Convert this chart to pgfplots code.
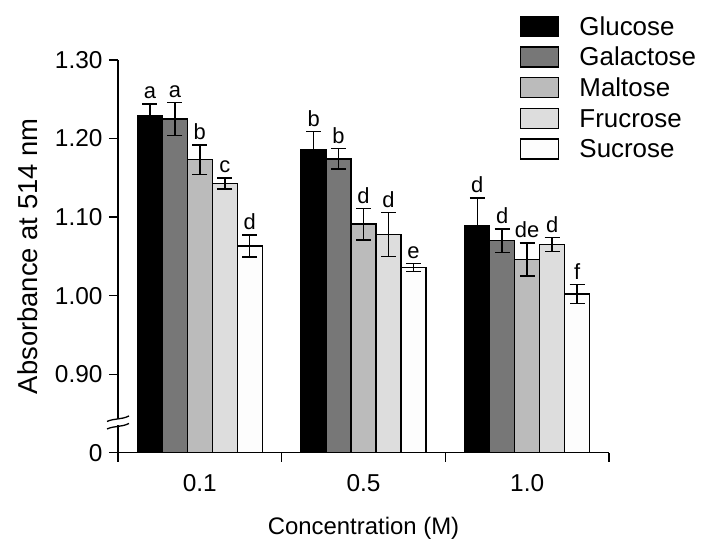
\documentclass[border=0pt]{standalone}
\usepackage{pgfplots}
\pgfplotsset{compat=1.18}
\usepackage{pgfplotstable}
\usepackage{fontspec}
\setmainfont{Liberation Sans}
\definecolor{cGal}{HTML}{777777}
\definecolor{cMal}{HTML}{BBBBBB}
\definecolor{cFru}{HTML}{DDDDDD}
\definecolor{cSuc}{HTML}{FDFDFD}
\pgfplotstableread{
x y err lab
0 1.229 0.015 a
1 1.186 0.023 b
2 1.089 0.035 d
}\glucose
\pgfplotstableread{
x y err lab
0 1.225 0.021 a
1 1.174 0.013 b
2 1.070 0.015 d
}\galactose
\pgfplotstableread{
x y err lab
0 1.173 0.019 b
1 1.091 0.020 d
2 1.046 0.021 de
}\maltose
\pgfplotstableread{
x y err lab
0 1.143 0.007 c
1 1.078 0.028 d
2 1.065 0.009 d
}\frucrose
\pgfplotstableread{
x y err lab
0 1.063 0.014 d
1 1.036 0.005 e
2 1.002 0.012 f
}\sucrose
\begin{document}
\begin{tikzpicture}
\path[use as bounding box] (0bp,0bp) rectangle (719bp,558bp);
\begin{axis}[
  at={(118bp,105.3bp)}, anchor=south west,
  scale only axis, width=491bp, height=392.7bp,
  xmin=-0.5, xmax=2.5, ymin=0.8, ymax=1.3,
  axis x line=bottom, axis y line=left,
  axis line style={-, line width=1.3bp},
  every tick/.style={black, line width=1.3bp},
  tick align=outside, major tick length=9bp,
  xtick={-0.5,0.5,1.5,2.5}, xticklabels={},
  extra x ticks={0,1,2}, extra x tick labels={0.1,0.5,1.0},
  extra x tick style={major tick length=0pt},
  ytick={0.8,0.9,1.0,1.1,1.2,1.3},
  yticklabels={0,0.90,1.00,1.10,1.20,1.30},
  /pgf/number format/assume math mode=true,
  ticklabel style={font=\fontsize{24.5}{28}\selectfont},
  x tick label style={yshift=-18bp},
  y tick label style={xshift=-3bp},
  xlabel={Concentration (M)},
  ylabel={Absorbance at 514 nm},
  xlabel style={font=\fontsize{24}{28}\selectfont, yshift=-10bp},
  ylabel style={font=\fontsize{27.5}{31}\selectfont, yshift=10bp},
  ybar=0pt, bar width=0.1524,
  nodes near coords,
  point meta=explicit symbolic,
  visualization depends on={\thisrow{err} \as \perr},
  every node near coord/.append style={font=\fontsize{22}{26}\selectfont, anchor=south, inner sep=1bp, yshift={\perr*785.4bp+3.5bp}},
  error bars/y dir=both, error bars/y explicit,
  error bars/error bar style={line width=1.5bp, black},
  error bars/error mark options={rotate=90, mark size=7.5bp, line width=1.5bp, black},
  legend style={at={(0.8187,1.1135)}, anchor=north west, draw=none, fill=none,
    font=\fontsize{26}{30}\selectfont, row sep=5bp, inner sep=0pt,
    nodes={inner sep=0pt, text height=19bp, text depth=6bp},
    /tikz/column sep=20bp},
  legend cell align=left,
  legend image code/.code={\draw[#1, line width=1.3bp] (0bp,-7.5bp) rectangle (38bp,12.5bp);},
]
\addplot[fill=black, draw=black, line width=1.3bp] table[x=x, y=y, y error=err, meta=lab] {\glucose};
\addplot[fill=cGal, draw=black, line width=1.3bp] table[x=x, y=y, y error=err, meta=lab] {\galactose};
\addplot[fill=cMal, draw=black, line width=1.3bp] table[x=x, y=y, y error=err, meta=lab] {\maltose};
\addplot[fill=cFru, draw=black, line width=1.3bp] table[x=x, y=y, y error=err, meta=lab] {\frucrose};
\addplot[fill=cSuc, draw=black, line width=1.3bp] table[x=x, y=y, y error=err, meta=lab] {\sucrose};
\legend{Glucose,Galactose,Maltose,Frucrose,Sucrose}
\coordinate (brk) at (axis cs:-0.5,0.8385);
\end{axis}
\fill[white] ([shift={(-6bp,-3bp)}]brk) rectangle ([shift={(6bp,3bp)}]brk);
\draw[line width=1.3bp] ([shift={(-11bp,-6.5bp)}]brk) .. controls ([shift={(-3bp,-3bp)}]brk) and ([shift={(3bp,-5bp)}]brk) .. ([shift={(11bp,-1bp)}]brk);
\draw[line width=1.3bp] ([shift={(-11bp,1bp)}]brk) .. controls ([shift={(-3bp,4.5bp)}]brk) and ([shift={(3bp,2.5bp)}]brk) .. ([shift={(11bp,6.5bp)}]brk);
\end{tikzpicture}
\end{document}
